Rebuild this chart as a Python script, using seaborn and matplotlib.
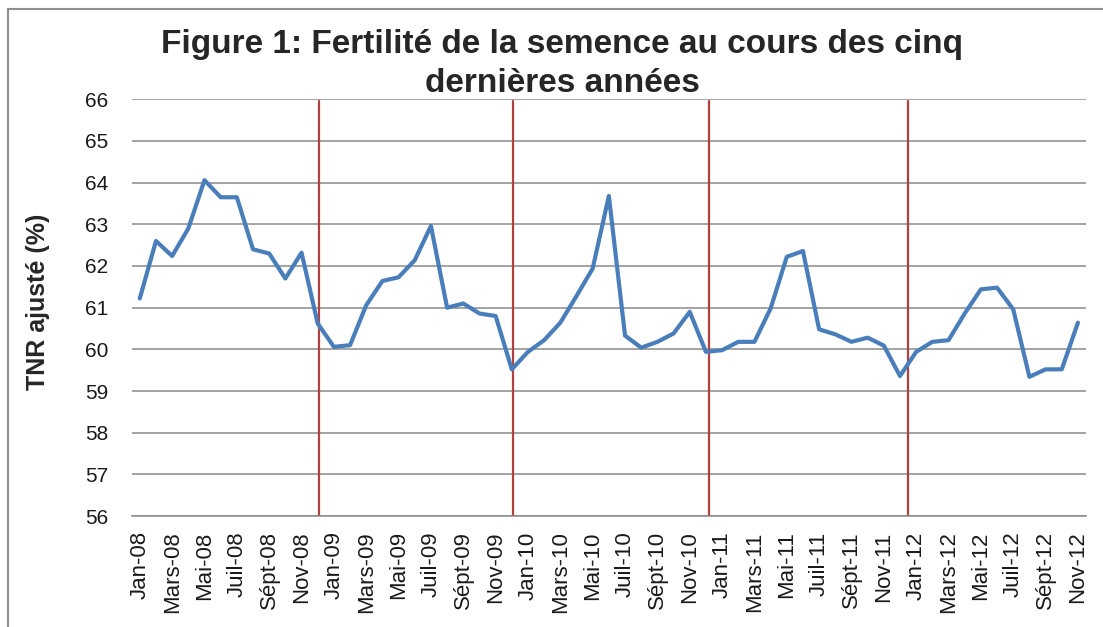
import matplotlib.pyplot as plt
import pandas as pd
import seaborn as sns
from matplotlib.lines import Line2D

MONTHS = ["Jan", "Fév", "Mars", "Avr", "Mai", "Juin",
          "Juil", "Août", "Sépt", "Oct", "Nov", "Déc"]
YEARS = ["08", "09", "10", "11", "12"]

# TNR ajusté (%), Jan-08 .. Nov-12
TNR = [
    61.22, 62.60, 62.24, 62.90, 64.06, 63.65, 63.65, 62.40, 62.30, 61.70, 62.32, 60.62,
    60.06, 60.10, 61.06, 61.64, 61.73, 62.14, 62.96, 61.00, 61.10, 60.86, 60.80, 59.52,
    59.94, 60.22, 60.64, 61.28, 61.94, 63.68, 60.33, 60.04, 60.18, 60.38, 60.90, 59.94,
    59.98, 60.18, 60.18, 60.98, 62.22, 62.36, 60.48, 60.36, 60.18, 60.28, 60.09, 59.36,
    59.94, 60.18, 60.22, 60.86, 61.44, 61.48, 60.96, 59.34, 59.52, 59.52, 60.64,
]

# hand-drawn year separators (category position)
YEAR_BREAKS = [11.05, 23.1, 35.2, 47.5]

Y_TICKS = list(range(56, 67))

sns.set_style("white")
plt.rcParams["font.family"] = ["Liberation Sans", "DejaVu Sans"]

periods = [f"{m}-{y}" for y in YEARS for m in MONTHS][: len(TNR)]
df = pd.DataFrame({"Mois": periods, "TNR": TNR})
df["pos"] = range(len(df))

fig = plt.figure(figsize=(11.03, 6.27), dpi=100)
ax = fig.add_axes([0.1194, 0.177, 0.8652, 0.6646])

for xb in YEAR_BREAKS:
    ax.axvline(xb, ymax=0.995, color="#B0413E", linewidth=1.6, zorder=2)

sns.lineplot(data=df, x="pos", y="TNR", color="#4A7EBB", linewidth=3.0, ax=ax, zorder=3)

ax.set_xlim(-0.5, len(df) - 0.5)
ax.set_ylim(Y_TICKS[0], Y_TICKS[-1])
ax.set_yticks(Y_TICKS)
ax.yaxis.grid(True, color="#8a8a8a", linewidth=1.1)
ax.set_axisbelow(True)

ax.set_xticks(df["pos"][::2])
ax.set_xticklabels(df["Mois"][::2], rotation=90)
ax.tick_params(axis="x", length=0, labelsize=16, pad=11, colors="#1a1a1a")
ax.tick_params(axis="y", length=0, labelsize=15, pad=17, colors="#1a1a1a")

for side in ["top", "right", "left"]:
    ax.spines[side].set_visible(False)
ax.spines["bottom"].set_color("#8a8a8a")
ax.spines["bottom"].set_linewidth(1.1)

ax.set_xlabel("")
ax.set_ylabel("TNR ajusté (%)", fontsize=18, fontweight="bold")
ax.yaxis.set_label_coords(-0.0856, 0.514)

fig.text(0.5095, 0.898,
         "Figure 1: Fertilité de la semence au cours des cinq\ndernières années",
         ha="center", va="center", fontsize=24, fontweight="bold", linespacing=1.3)

# chart frame (left and top edges only are visible)
fig.add_artist(Line2D([8 / 1103, 8 / 1103], [0, 1 - 9 / 627],
                      transform=fig.transFigure, color="#8f8f8f", linewidth=1.5))
fig.add_artist(Line2D([8 / 1103, 1], [1 - 9 / 627, 1 - 9 / 627],
                      transform=fig.transFigure, color="#8f8f8f", linewidth=1.5))

fig.savefig("out.png", dpi=100)
